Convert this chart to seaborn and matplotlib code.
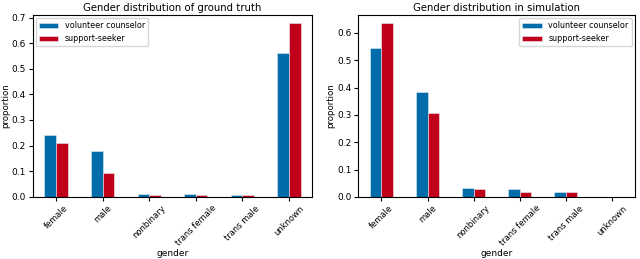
import pandas as pd
import matplotlib
matplotlib.use('Agg')
import matplotlib.pyplot as plt
import seaborn as sns

genders = ['female', 'male', 'nonbinary', 'trans female', 'trans male', 'unknown']
roles = ['volunteer counselor', 'support-seeker']
truth_counselor = [0.240, 0.178, 0.012, 0.012, 0.008, 0.560]
truth_seeker = [0.210, 0.095, 0.008, 0.008, 0.008, 0.677]
sim_counselor = [0.545, 0.383, 0.031, 0.028, 0.016, 0.0]
sim_seeker = [0.635, 0.307, 0.028, 0.018, 0.016, 0.0]
colors = ['#006ca9', '#c0001a']


def make_frame(a, b):
    return pd.DataFrame({
        'gender': genders * 2,
        'proportion': a + b,
        'role': [roles[0]] * len(genders) + [roles[1]] * len(genders),
    })


fig = plt.figure(figsize=(6.4, 2.59), dpi=100)
ax1 = fig.add_axes([0.051, 0.24, 0.437, 0.703])
ax2 = fig.add_axes([0.560, 0.24, 0.432, 0.703])

panels = [
    (ax1, make_frame(truth_counselor, truth_seeker), 'Gender distribution of ground truth', 'upper left'),
    (ax2, make_frame(sim_counselor, sim_seeker), 'Gender distribution in simulation', 'upper right'),
]
for ax, df, title, loc in panels:
    sns.barplot(data=df, x='gender', y='proportion', hue='role', palette=colors,
                saturation=1, width=0.5, gap=0, edgecolor='#e4eef4', linewidth=0.4, ax=ax)
    ax.set_title(title, fontsize=7.3, pad=3)
    ax.set_xlabel('gender', fontsize=6.5, labelpad=1)
    ax.set_ylabel('proportion', fontsize=6.2, labelpad=1)
    ax.tick_params(axis='x', labelrotation=45, labelsize=6, pad=2, length=3)
    ax.tick_params(axis='y', labelsize=6.5, pad=2, length=3)
    for lab in ax.get_xticklabels():
        lab.set_ha('center')
    ax.set_xlim(-0.5, 5.5)
    ax.legend(title=None, loc=loc, fontsize=5.8, handlelength=2.4, borderaxespad=0.4)

fig.savefig('out.png', dpi=100)
